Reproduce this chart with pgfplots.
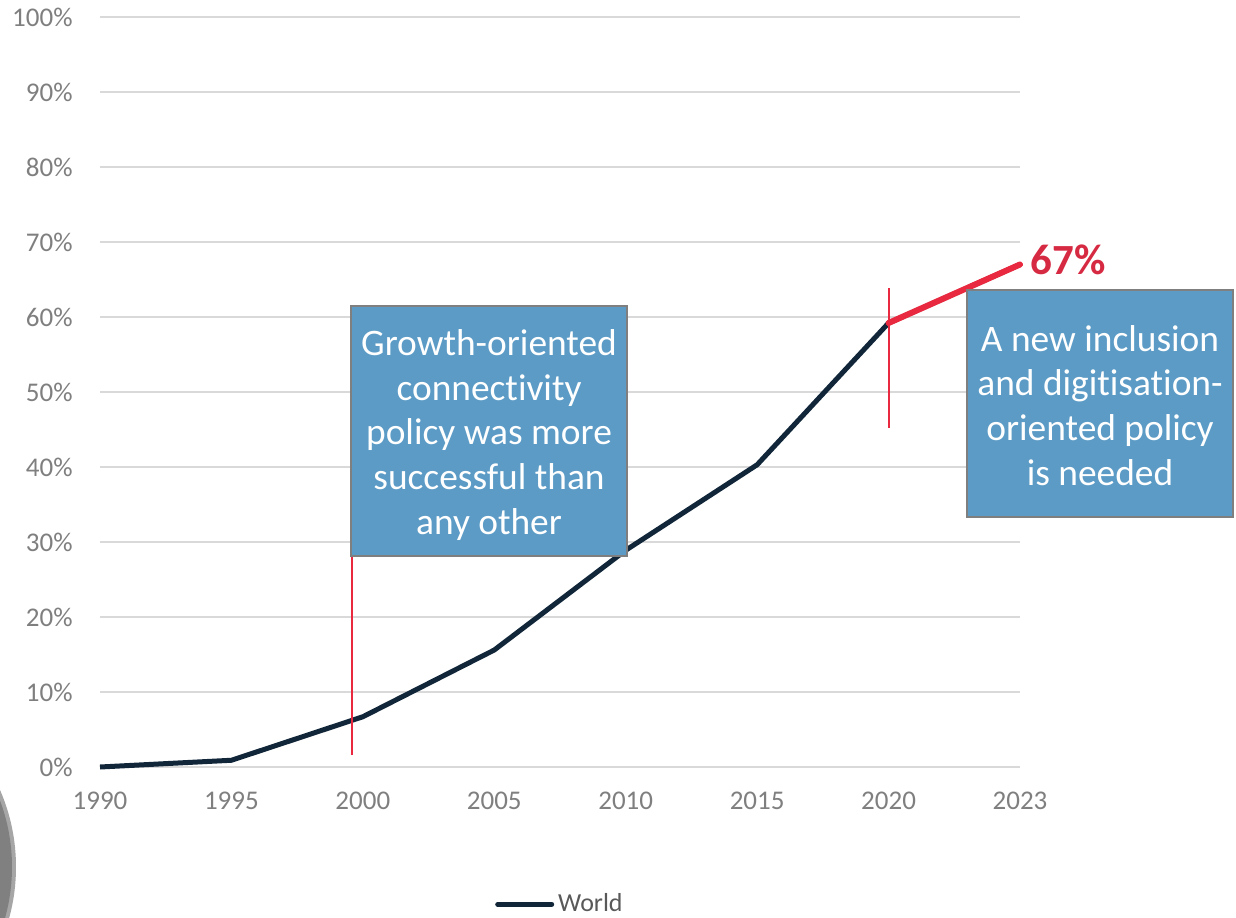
\documentclass[border=0pt]{standalone}
\usepackage{pgfplots}
\pgfplotsset{compat=1.18}
\usepackage{fontspec}
\setmainfont{Carlito}[Ligatures=NoCommon]
\definecolor{world}{HTML}{12263A}
\definecolor{redl}{HTML}{E8293F}
\definecolor{redt}{HTML}{D62A42}
\definecolor{boxblue}{HTML}{5B9BC6}
\definecolor{boxedge}{HTML}{7F7F7F}
\definecolor{tickgray}{HTML}{7F7F7F}
\definecolor{gridgray}{HTML}{D9D9D9}
\definecolor{legtext}{HTML}{595959}
\begin{document}
\begin{tikzpicture}
\fill[black!35] (-88.5pt,25pt) circle (96.5pt);
\fill[black!50] (-88.5pt,25pt) circle (94.5pt);
\begin{axis}[
  at={(50pt,75pt)}, anchor=south west,
  scale only axis, width=460pt, height=375pt,
  xmin=0, xmax=7, ymin=0, ymax=100,
  xtick={0,...,7},
  xticklabels={1990,1995,2000,2005,2010,2015,2020,2023},
  ytick={0,10,...,100},
  yticklabel={\pgfmathprintnumber{\tick}\%},
  /pgf/number format/assume math mode=true,
  axis line style={draw=none},
  major tick length=0pt,
  ymajorgrids, grid style={gridgray, line width=0.75pt},
  tick label style={font=\fontsize{13.5}{16}\selectfont, text=tickgray, inner sep=0pt},
  xticklabel style={anchor=center, yshift=-17pt},
  yticklabel style={anchor=east, xshift=-13.5pt},
  clip=false,
  legend style={at={(0.501,-0.183)}, anchor=center, draw=none, fill=none,
    font=\fontsize{13}{15}\selectfont, text=legtext, inner sep=0pt},
  legend cell align=left,
  legend image code/.code={\draw[#1, line cap=round] (0pt,0pt) -- (27pt,0pt);},
]
\addplot[world, line width=2.5pt, line join=round] coordinates {
  (0,0) (1,0.9) (2,6.7) (3,15.6) (4,28.9) (5,40.3) (6,59.2) (7,67)};
\addlegendentry{World}
\addplot[redl, line width=3pt, line cap=round, forget plot] coordinates {(6,59.2) (7,67)};
\addplot[redl, line width=1pt, forget plot] coordinates {(1.92,1.6) (1.92,40)};
\addplot[redl, line width=1pt, forget plot] coordinates {(6,45.2) (6,63.9)};
\node[fill=boxblue, draw=boxedge, line width=1pt, minimum width=138pt, minimum height=125pt,
  inner sep=0pt] at (axis cs:2.96,44.8) {};
\node[inner sep=0pt, align=center, text=white, font=\fontsize{18.7}{22.4}\selectfont]
  at (axis cs:2.96,44.8) [yshift=-2pt] {Growth-oriented\\connectivity\\policy was more\\successful than\\any other};
\node[fill=boxblue, draw=boxedge, line width=1pt, minimum width=133pt, minimum height=113.5pt,
  inner sep=0pt] at (axis cs:7.609,48.47) {};
\node[inner sep=0pt, align=center, text=white, font=\fontsize{18.7}{22.4}\selectfont]
  at (axis cs:7.609,48.47) [yshift=-1pt] {A new inclusion\\and digitisation-\\oriented policy\\is needed};
\node[anchor=west, text=redt, font=\fontsize{21.5}{24}\selectfont\bfseries, inner sep=0pt]
  at (axis cs:7,67.6) [xshift=5pt] {67\%};
\end{axis}
\pgfresetboundingbox
\path[use as bounding box] (0,0) rectangle (618pt,458.5pt);
\end{tikzpicture}
\end{document}
